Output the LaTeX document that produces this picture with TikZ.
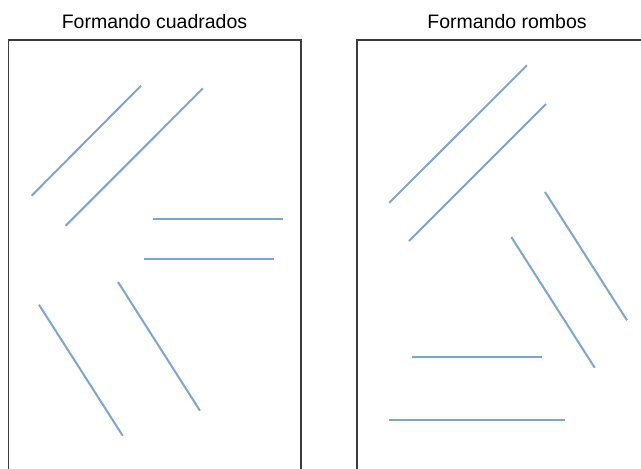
\documentclass[tikz,border=0pt]{standalone}
\usepackage{fontspec}
\setmainfont{Liberation Sans}
\definecolor{lineblue}{RGB}{125,165,212}
\definecolor{framegray}{RGB}{60,60,60}
\begin{document}
\begin{tikzpicture}[x=1pt,y=-1pt,
  stick/.style={draw=lineblue,line width=2pt},
  frame/.style={draw=framegray,line width=1.2pt},
  title/.style={anchor=base,inner sep=0pt,font=\fontsize{19.5}{23}\selectfont}]
\useasboundingbox (0,0) rectangle (641,469);
\clip (0,0) rectangle (641,469);
\node[title] (t1) at (154.5,28) {Formando cuadrados};
\node[title] (t2) at (507,28) {Formando rombos};
\draw[frame] (8.5,40) rectangle (301,490);
\draw[frame] (357,40) rectangle (660,490);
% left panel
\draw[stick] (31.7,195.7) -- (141,85.7);
\draw[stick] (65.7,225.7) -- (203,88.3);
\draw[stick] (152.7,219) -- (283.3,219);
\draw[stick] (144,259) -- (274.3,259);
\draw[stick] (39,304.7) -- (122.7,435.7);
\draw[stick] (118,282) -- (200,410.7);
% right panel
\draw[stick] (389.3,202.7) -- (527,65.3);
\draw[stick] (409,241) -- (546,104);
\draw[stick] (545,192) -- (627,320.3);
\draw[stick] (511.3,237) -- (594.7,367.7);
\draw[stick] (412,357.3) -- (542.3,357.3);
\draw[stick] (389.3,420) -- (565.3,420);
\end{tikzpicture}
\end{document}
